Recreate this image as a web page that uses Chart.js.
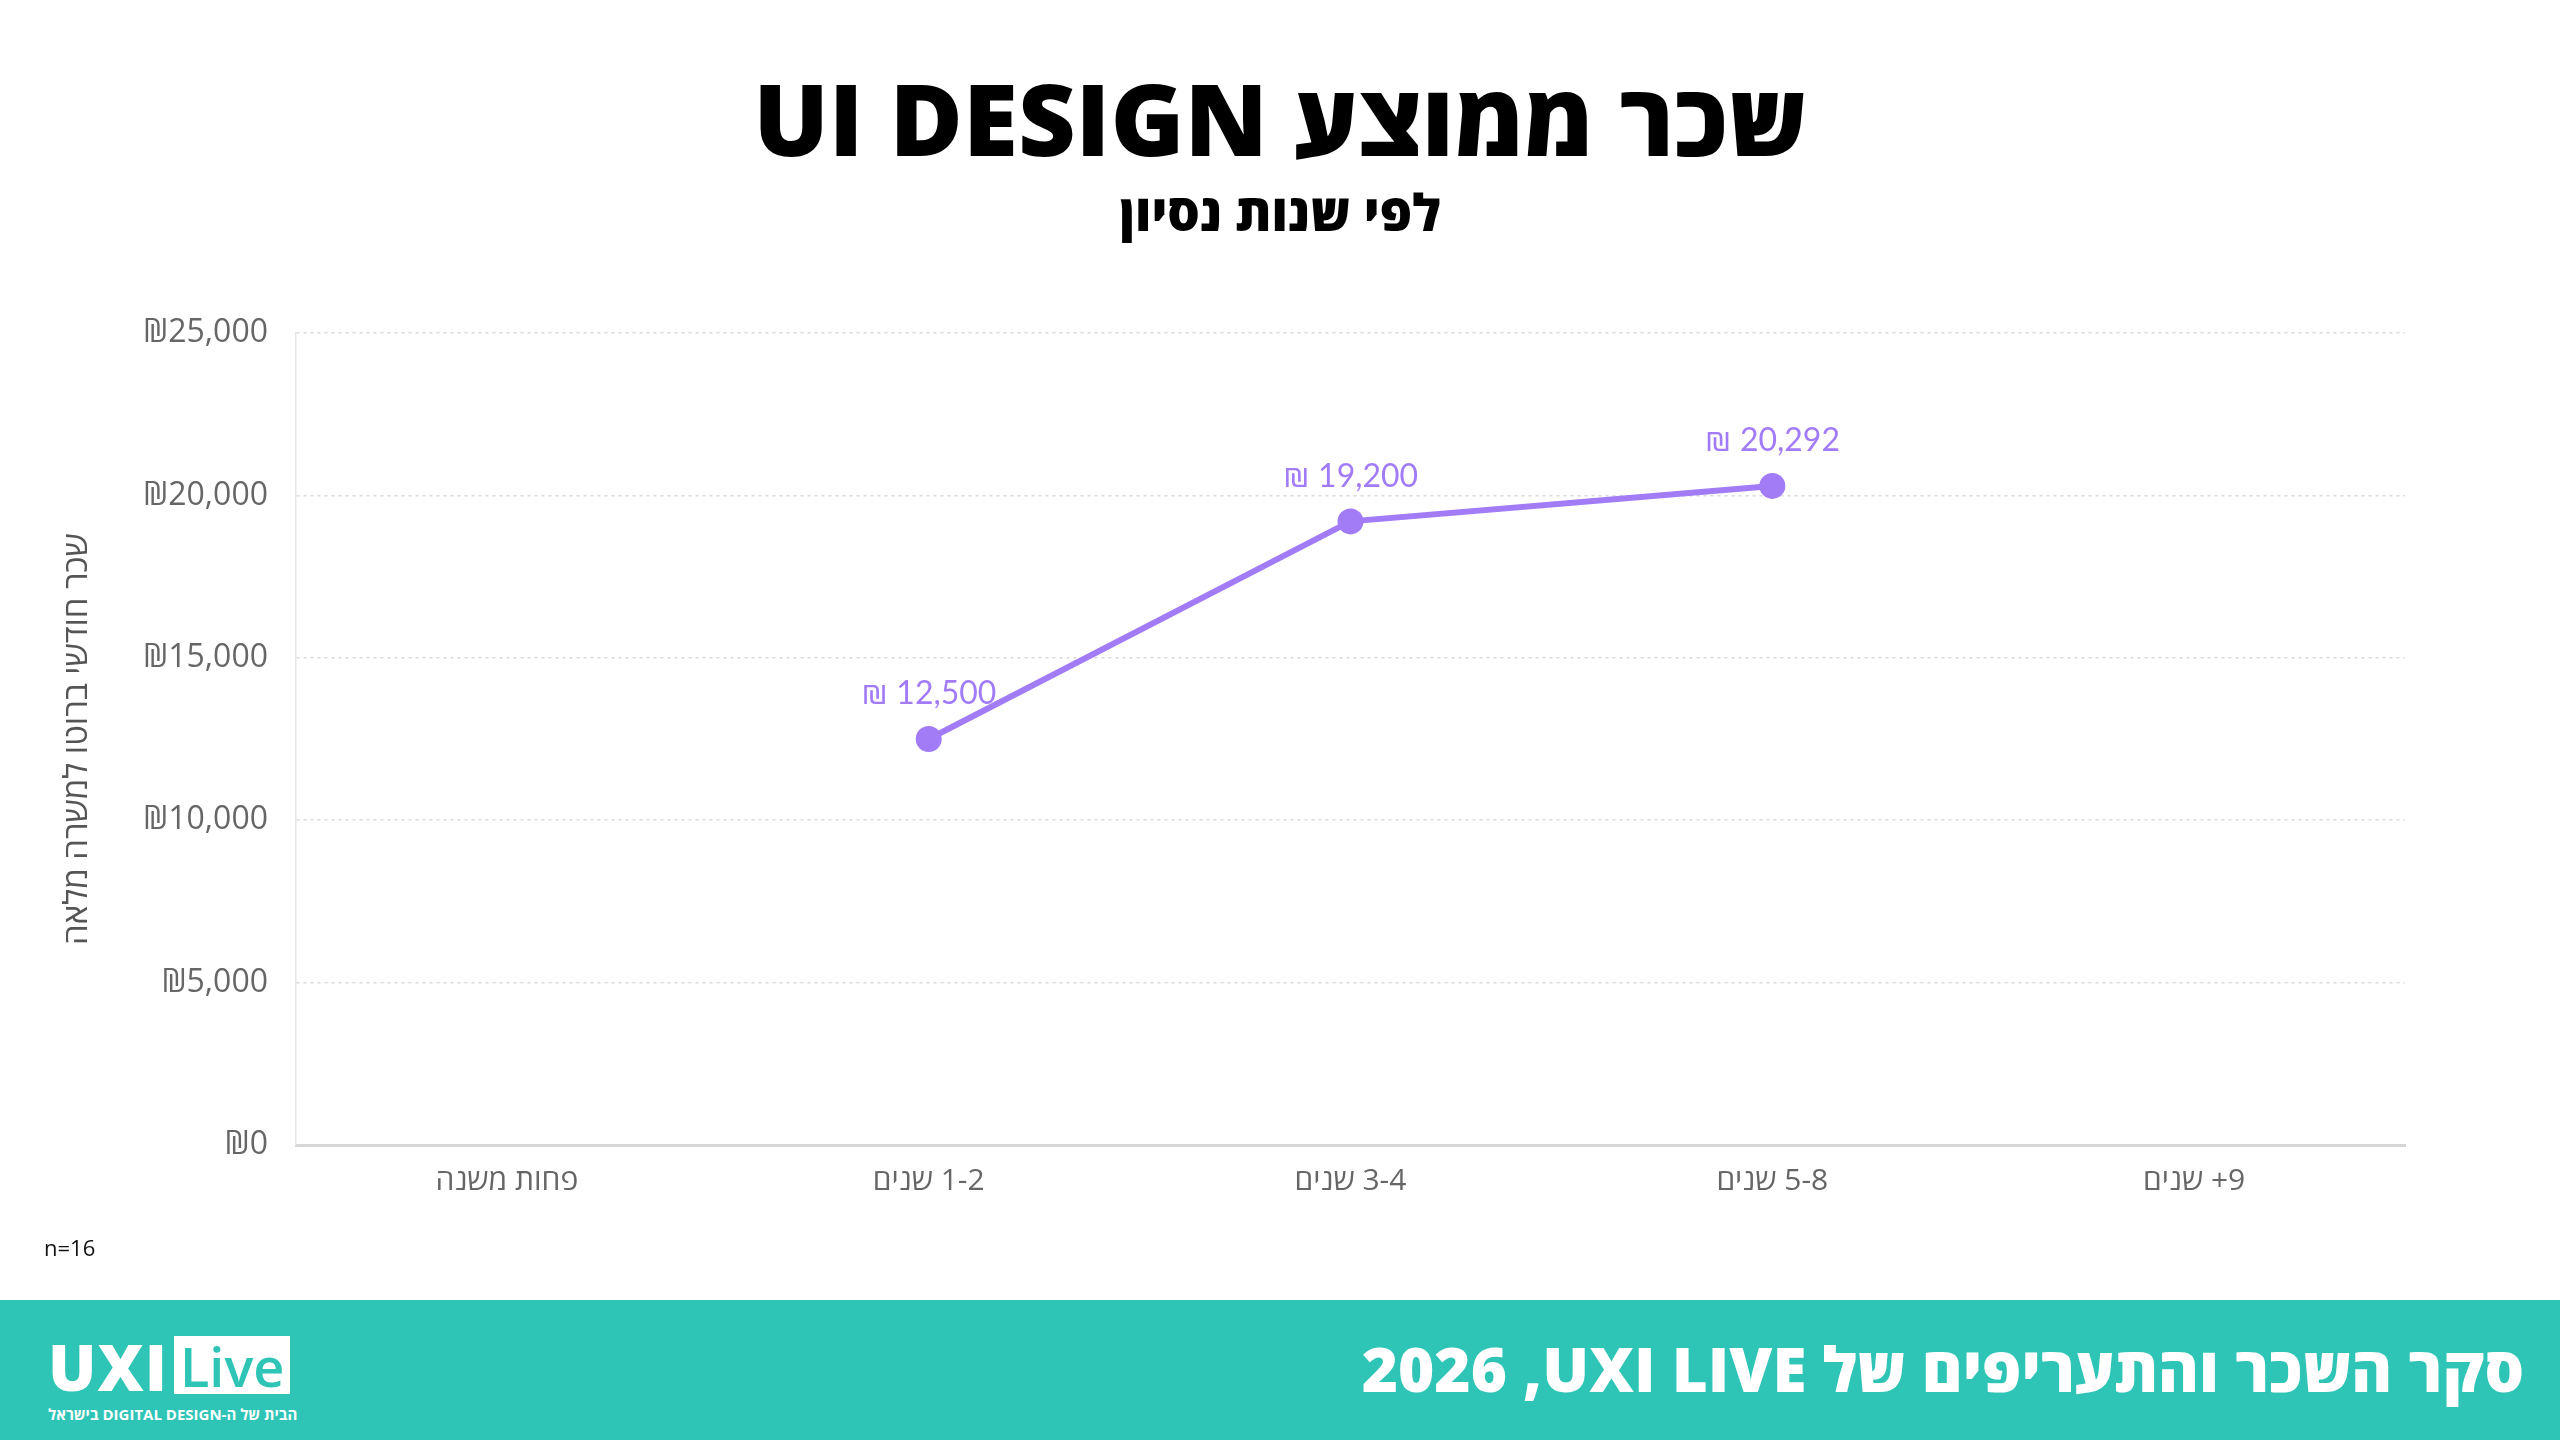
<!DOCTYPE html>
<html lang="he">
<head>
<meta charset="utf-8">
<title>שכר ממוצע UI DESIGN</title>
<script src="https://cdn.jsdelivr.net/npm/chart.js@4/dist/chart.umd.min.js"></script>
<style>
  html, body { margin: 0; padding: 0; background: #fff; }
  body { width: 2560px; height: 1440px; position: relative; overflow: hidden;
         font-family: "Open Sans", "DejaVu Sans", sans-serif; }
  #title { position: absolute; top: 52px; left: 0; width: 2560px; text-align: center;
           font-size: 100px; font-weight: 800; line-height: 130px; color: #000; }
  #subtitle { position: absolute; top: 178px; left: 0; width: 2560px; text-align: center;
              font-size: 51px; font-weight: 800; line-height: 66px; color: #000; }
  #chartBox { position: absolute; top: 0; left: 0; width: 2560px; height: 1300px; }
  #note { position: absolute; left: 44px; top: 1232px; font-size: 22px; color: #111; }
  #footer { position: absolute; left: 0; top: 1300px; width: 2560px; height: 140px; background: #2ec4b6; }
  #footerText { position: absolute; right: 36px; top: 26px; font-size: 62px; font-weight: 800;
                color: #fff; line-height: 84px; white-space: nowrap; }
  #logo { position: absolute; left: 48px; top: 36px; color: #fff; }
  #logo .big { font-size: 64px; font-weight: 800; line-height: 62px; letter-spacing: 1px; }
  #logo .live { display: inline-block; background: #fff; color: #2ec4b6; font-size: 54px; font-weight: 600;
                line-height: 56px; padding: 2px 6px 0 6px; vertical-align: top; margin-left: 6px; }
  #logo .tag { font-size: 15px; font-weight: 700; margin-top: 6px; white-space: nowrap; }
</style>
</head>
<body>
<div id="title" dir="rtl">שכר ממוצע UI DESIGN</div>
<div id="subtitle" dir="rtl">לפי שנות נסיון</div>
<div id="chartBox"><canvas id="salaryChart" dir="rtl"></canvas></div>
<div id="note">n=16</div>
<div id="footer">
  <div id="logo">
    <div><span class="big">UXI</span><span class="live">Live</span></div>
    <div class="tag" dir="rtl">הבית של ה-DIGITAL DESIGN בישראל</div>
  </div>
  <div id="footerText" dir="rtl">סקר השכר והתעריפים של UXI LIVE&#x200F;, 2026</div>
</div>
<script>
const categories = ["פחות משנה", "1-2 שנים", "3-4 שנים", "5-8 שנים", "9+ שנים"];
const salaries = [null, 12500, 19200, 20292, null];
const yTicks = [0, 5000, 10000, 15000, 20000, 25000];

const purple = "#a27bf7";

// draws "₪ value" above each point
const pointLabels = {
  id: "pointLabels",
  afterDatasetsDraw(chart) {
    const ctx = chart.ctx;
    const meta = chart.getDatasetMeta(0);
    ctx.save();
    ctx.direction = "ltr";
    ctx.font = "32px Lato, 'Open Sans', sans-serif";
    ctx.fillStyle = purple;
    ctx.textAlign = "center";
    ctx.textBaseline = "middle";
    meta.data.forEach(function (pt, i) {
      const v = salaries[i];
      if (v === null || pt.skip) return;
      ctx.fillText("₪ " + v.toLocaleString("en-US"), pt.x, pt.y - 45);
    });
    ctx.restore();
  }
};

function createChart() {
  const ctx = document.getElementById("salaryChart");
  new Chart(ctx, {
    type: "line",
    data: {
      labels: categories,
      datasets: [{
        data: salaries,
        borderColor: purple,
        backgroundColor: purple,
        borderWidth: 6,
        pointRadius: 13,
        pointBorderWidth: 0,
        fill: false,
        tension: 0
      }]
    },
    options: {
      responsive: true,
      maintainAspectRatio: false,
      animation: false,
      layout: { padding: { top: 333, right: 155, bottom: 0, left: 40 } },
      plugins: { legend: { display: false }, tooltip: { enabled: false } },
      scales: {
        x: {
          offset: true,
          afterFit(scale) { scale.height = 155; },
          grid: { display: false },
          border: { display: true, color: "#d6d6d6", width: 3 },
          ticks: { color: "#666", padding: 10, font: { size: 30, family: "'Open Sans', sans-serif" } }
        },
        y: {
          min: 0,
          max: 25000,
          afterFit(scale) { scale.width = 256; },
          afterBuildTicks(scale) { scale.ticks = yTicks.map(v => ({ value: v })); },
          grid: { color: "#d9d9d9", lineWidth: 1.5, drawTicks: false },
          border: { display: true, color: "#e6e6e6", width: 1.5, dash: [3, 4] },
          ticks: {
            color: "#666",
            padding: 28,
            font: { size: 32, family: "'Open Sans', sans-serif" },
            callback: v => "₪" + v.toLocaleString("en-US")
          },
          title: {
            display: true,
            text: "שכר חודשי ברוטו למשרה מלאה",
            color: "#555",
            padding: { top: 18, bottom: 0 },
            font: { size: 33, family: "'Open Sans', sans-serif" }
          }
        }
      }
    },
    plugins: [pointLabels]
  });
}

document.addEventListener("DOMContentLoaded", createChart);
</script>
</body>
</html>
